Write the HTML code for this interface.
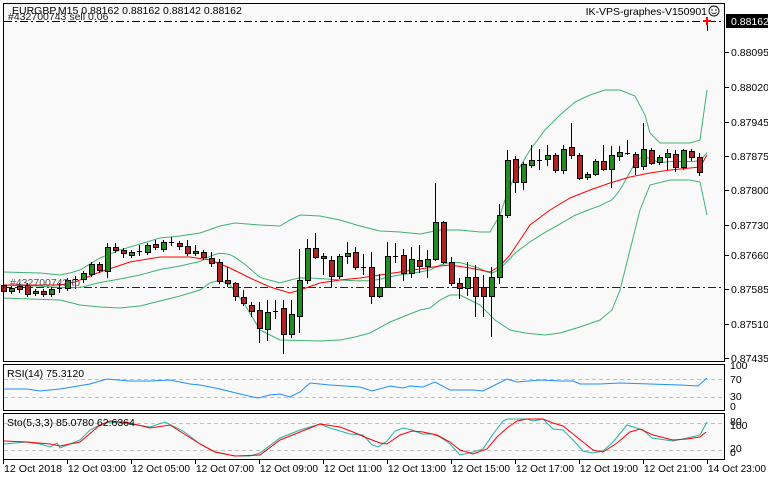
<!DOCTYPE html>
<html><head><meta charset="utf-8">
<style>
html,body{margin:0;padding:0;background:#fff;}
svg{display:block;font-family:"Liberation Sans",sans-serif;}
</style></head><body>
<svg id="s" width="768" height="480" xmlns="http://www.w3.org/2000/svg">
<rect x="0" y="0" width="768" height="480" fill="#fff"/>
<rect x="3" y="3" width="722" height="359" fill="#f9f9f9"/>
<rect x="3" y="364" width="722" height="47" fill="#f9f9f9"/>
<rect x="3" y="413" width="722" height="46" fill="#f9f9f9"/>
<g id="g"></g>
<g fill="none" stroke="#000" stroke-width="1">
<rect x="3.5" y="3.5" width="721" height="358"/>
<rect x="3.5" y="364.5" width="721" height="46"/>
<rect x="3.5" y="413.5" width="721" height="46"/>
</g>
<g font-size="10.5" fill="#000">
<text x="12" y="14">EURGBP,M15  0.88162 0.88162 0.88142 0.88162</text>
<text x="8" y="20" fill="#222">#432700743 sell 0.06</text>
<text x="707" y="15" text-anchor="end">IK-VPS-graphes-V150901</text>
<text x="10" y="286" fill="#555">#432700743 tp</text>
<text x="7" y="377">RSI(14) 75.3120</text>
<text x="7" y="426">Sto(5,3,3) 85.0780 62.6364</text>
</g>
<circle cx="714" cy="11" r="5" fill="none" stroke="#000" stroke-width="0.9"/>
<circle cx="712" cy="10" r="0.7"/><circle cx="716" cy="10" r="0.7"/>
<path d="M711.5 12.5 Q714 15 716.5 12.5" fill="none" stroke="#000" stroke-width="0.8"/>
<g font-size="10.5" fill="#000" id="ax"></g>
</svg>
<script>
var g=document.getElementById('g'),ax=document.getElementById('ax');
var NS='http://www.w3.org/2000/svg';
function el(t,a,p){var e=document.createElementNS(NS,t);for(var k in a)e.setAttribute(k,a[k]);(p||g).appendChild(e);return e;}
function txt(x,y,s,p,extra){var e=el('text',Object.assign({x:x,y:y},extra||{}),p||ax);e.textContent=s;return e;}
[379,397].forEach(function(y){el('line',{x1:4,x2:724,y1:y+.5,y2:y+.5,stroke:'#c0c0c0','stroke-dasharray':'4,3'});});
[423,450].forEach(function(y){el('line',{x1:4,x2:724,y1:y+.5,y2:y+.5,stroke:'#c0c0c0','stroke-dasharray':'4,3'});});
el('line',{x1:4,x2:724,y1:21.5,y2:21.5,stroke:'#000','stroke-dasharray':'8,3,2,3'});
el('line',{x1:4,x2:724,y1:287.5,y2:287.5,stroke:'#1010c0','stroke-dasharray':'8,3,2,3'});
function interp(pts,x){for(var i=0;i<pts.length-1;i++){if(x>=pts[i][0]&&x<=pts[i+1][0]){var t=(x-pts[i][0])/(pts[i+1][0]-pts[i][0]);return pts[i][1]+t*(pts[i+1][1]-pts[i][1]);}}return pts[pts.length-1][1];}
function pl(pts,c){el('polyline',{points:pts.map(function(p){return p.join(',')}).join(' '),fill:'none',stroke:c,'stroke-width':1});}
var up=[[3,272],[40,273],[60,275],[70,273],[80,270],[100,258],[120,250],[140,244],[160,238],[180,236],[200,233],[220,226],[235,223],[260,225],[280,226],[290,220],[300,215],[320,216],[340,220],[360,226],[380,231],[400,232],[420,234],[440,230],[460,230],[480,232],[490,232],[500,215],[505,200],[515,175],[530,150],[545,130],[560,115],[575,102],[590,95],[605,90],[620,90],[635,96],[645,115],[650,133],[660,143],[690,143],[700,140],[707,90]];
var lo=[[3,298],[30,299],[60,300],[80,305],[100,307],[120,308],[140,306],[160,301],[180,296],[200,290],[210,283],[220,280],[230,285],[245,305],[260,330],[280,340],[320,341],[340,340],[355,337],[370,333],[390,322],[410,314],[420,310],[430,308],[440,300],[450,295],[460,295],[470,300],[480,305],[495,320],[510,330],[525,333],[545,335],[560,333],[580,327],[600,320],[612,310],[620,290],[630,250],[640,210],[650,185],[670,180],[690,180],[700,182],[707,215]];
var mid=[];for(var x=3;x<=707;x+=4){mid.push([x,(interp(up,x)+interp(lo,x))/2]);}
pl(up,'#3cb371');pl(lo,'#3cb371');pl(mid,'#3cb371');
var ma=[[3,285],[60,285],[75,282],[100,272],[130,262],[160,257],[190,257],[210,260],[230,268],[250,278],[270,287],[290,293],[300,290],[320,283],[340,280],[360,278],[380,275],[400,272],[420,269],[440,266],[450,265],[470,268],[490,272],[500,266],[510,255],[520,240],[530,225],[550,210],[570,198],[590,190],[610,183],[630,177],[650,173],[670,170],[690,168],[700,167],[707,155]];
pl(ma,'#ff0000');
var C=[
['r',285,291,283,293],['g',288,291,286,293],['r',286,289,283,292],['r',285,294,283,296],['g',291,293,289,295],['r',291,294,289,296],['g',289,294,287,296],['d',288,288,283,292],['g',280,288,278,290],['d',279,280,276,288],
['g',273,279,271,282],['g',264,274,262,276],['r',264,270,262,272],['g',247,271,243,277],['r',247,250,243,252],['r',250,253,248,257],['g',252,255,250,257],['d',251,252,245,255],['g',245,252,243,254],['r',244,247,240,249],
['g',242,249,240,251],['d',242,243,237,245],['r',243,246,241,249],['r',246,253,240,255],['g',251,253,245,255],['r',252,257,250,259],['r',258,263,252,266],['r',262,281,259,283],['r',280,283,267,286],['r',283,296,282,300],
['r',297,303,290,305],['r',305,311,302,316],['r',310,328,302,342],['g',312,329,300,340],['d',311,312,300,318],['r',308,334,300,353],['g',314,334,300,337],['g',280,316,249,332],['g',248,280,239,283],['r',248,257,233,258],
['r',256,258,253,274],['r',260,276,256,286],['g',256,276,254,278],['g',253,256,242,263],['r',252,267,247,269],['d',267,268,254,274],['r',267,296,252,303],['g',287,296,274,297],['g',256,287,242,287],['d',256,257,243,262],
['r',255,273,249,280],['g',259,273,247,277],['r',260,266,245,272],['g',259,266,250,277],['g',222,259,183,260],['r',222,262,221,263],['r',262,283,257,285],['r',283,288,278,298],['g',277,288,262,295],['r',277,296,265,316],
['r',287,296,275,316],['g',277,296,267,336],['g',215,277,204,283],['g',160,215,150,217],['r',159,182,156,192],['g',164,182,162,189],['g',160,165,145,167],['d',160,161,149,169],['g',155,159,145,165],['r',155,170,153,172],
['g',149,170,145,173],['r',147,155,123,158],['r',155,178,153,179],['g',174,177,172,179],['g',161,174,159,175],['r',161,169,145,170],['g',155,169,146,187],['g',152,156,146,160],['d',153,154,140,154],['r',154,167,152,174],
['g',149,166,123,169],['r',150,163,148,164],['g',157,162,155,164],['g',153,157,149,169],['r',154,167,150,171],['g',150,167,149,169],['r',151,157,149,160],['r',157,172,153,175],['d',21,22,21,30]];
C.forEach(function(c,i){var x=3+8*i;
 el('line',{x1:x+.5,x2:x+.5,y1:c[3],y2:c[4]+1,stroke:'#000'});
 if(c[0]=='d'){el('line',{x1:x-2,x2:x+3,y1:c[1]+.5,y2:c[1]+.5,stroke:'#000'});}
 else{el('rect',{x:x-2+.5,y:c[1]+.5,width:5,height:Math.max(1,c[2]-c[1]),fill:c[0]=='g'?'#228b22':'#b22222',stroke:'#000'});}
});
el('path',{d:'M703 21h8M707 17v8',stroke:'#f00','stroke-width':2});
var rsi=[[4,389],[27,389],[40,391],[60,389],[90,384],[100,381],[107,379],[130,381],[150,381],[170,380],[190,384],[200,385],[220,389],[240,394],[258,398],[270,395],[280,394],[290,397],[300,392],[310,383],[330,385],[360,387],[372,391],[390,386],[403,388],[410,386],[423,387],[435,382],[450,390],[473,390],[483,391],[497,384],[507,379],[517,382],[540,380],[560,381],[573,381],[580,384],[600,384],[620,383],[650,384],[680,385],[698,386],[707,378]];
pl(rsi,'#1e90ff');
var st=[[4,444],[27,442],[40,444],[50,447],[57,443],[60,448],[80,440],[90,430],[100,425],[110,422],[130,424],[150,427],[165,422],[183,431],[200,444],[215,452],[235,456],[250,456],[260,453],[280,438],[300,430],[320,424],[330,428],[340,431],[350,434],[363,435],[372,445],[378,447],[387,441],[395,431],[403,428],[412,430],[422,434],[433,434],[440,437],[450,444],[460,455],[473,452],[483,449],[493,434],[503,421],[507,419],[527,419],[533,421],[543,419],[553,429],[563,430],[573,440],[583,451],[593,453],[603,451],[613,442],[627,425],[643,430],[652,438],[673,441],[687,438],[700,435],[707,422]];
var sg=[[4,441],[27,442],[50,444],[60,446],[80,442],[100,425],[110,421],[130,423],[150,428],[170,425],[200,444],[215,452],[235,456],[260,455],[280,440],[300,432],[320,424],[340,427],[353,432],[367,438],[380,443],[387,444],[400,435],[412,431],[423,432],[437,435],[450,442],[460,450],[473,454],[487,449],[497,437],[507,428],[517,421],[527,419],[543,419],[553,423],[563,426],[573,434],[583,442],[593,450],[603,452],[617,443],[630,432],[640,429],[653,435],[673,440],[687,439],[700,437],[706,432]];
pl(st,'#20b2aa');pl(sg,'#ff0000');
var pr=[[52,'0.88095'],[87,'0.88020'],[122,'0.87945'],[156,'0.87875'],[190,'0.87800'],[225,'0.87730'],[255,'0.87660'],[289,'0.87585'],[324,'0.87510'],[358,'0.87435']];
pr.forEach(function(p){el('line',{x1:725,x2:729,y1:p[0]+.5,y2:p[0]+.5,stroke:'#000'},ax);txt(731,p[0]+4,p[1]);});
el('rect',{x:726,y:14,width:42,height:14,fill:'#000'},ax);
txt(731,25,'0.88162',ax,{fill:'#fff'});
[[369,'100'],[383,'70'],[400,'30'],[410,'0'],[425,'80'],[429,'100'],[452,'20'],[456,'0']].forEach(function(p){txt(730,p[0],p[1]);});
var tl=['12 Oct 2018','12 Oct 03:00','12 Oct 05:00','12 Oct 07:00','12 Oct 09:00','12 Oct 11:00','12 Oct 13:00','12 Oct 15:00','12 Oct 17:00','12 Oct 19:00','12 Oct 21:00','14 Oct 23:00'];
tl.forEach(function(s,i){var x=3+64*i;el('line',{x1:x+.5,x2:x+.5,y1:459,y2:464,stroke:'#000'},ax);txt(x+1,472,s,ax,{'textLength':58,'lengthAdjust':'spacingAndGlyphs'});});
</script>
</body></html>
